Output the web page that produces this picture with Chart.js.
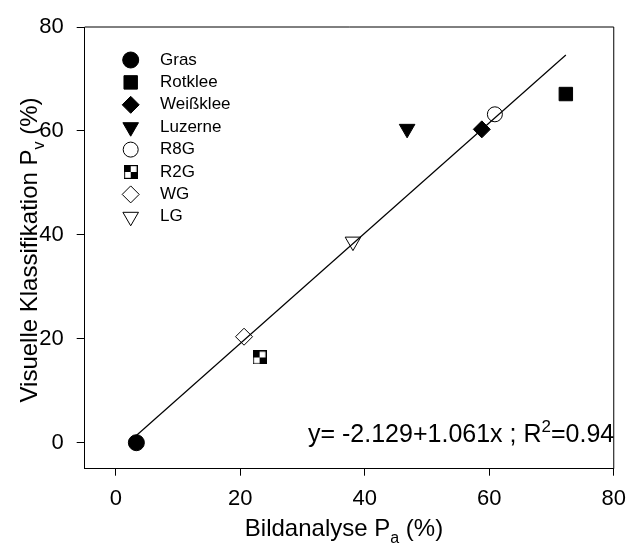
<!DOCTYPE html>
<html lang="de">
<head>
<meta charset="UTF-8">
<title>Bildanalyse vs. visuelle Klassifikation</title>
<script src="https://cdn.jsdelivr.net/npm/chart.js"></script>
<style>
    body { margin: 0; padding: 0; background: #fff; }
    #wrap { width: 636px; height: 546px; }
</style>
</head>
<body>
<div id="wrap"><canvas id="chart" width="636" height="546"></canvas></div>
<script>
// values
const names = ['Gras', 'Rotklee', 'Weißklee', 'Luzerne', 'R8G', 'R2G', 'WG', 'LG'];
const bildanalyse = [3.3, 72.3, 58.8, 46.8, 60.9, 23.1, 20.6, 38.1];
const visuell = [0.0, 67.1, 60.3, 60.4, 63.2, 16.4, 20.4, 38.7];
const fitX = [3.3, 72.3];
const fitY = [1.4, 74.6];
const xTicks = [0, 20, 40, 60, 80];
const yTicks = [0, 20, 40, 60, 80];
const equation = [['y= -2.129+1.061x ; R', ''], ['2', 'sup'], ['=0.94', '']];
const xTitle = [['Bildanalyse P', ''], ['a', 'sub'], [' (%)', '']];
const yTitle = [['Visuelle Klassifikation P', ''], ['v', 'sub'], [' (%)', '']];

const FONT = "'Liberation Sans', Arial, sans-serif";

// checkered square for R2G
function checker(size) {
    const c = document.createElement('canvas');
    c.width = size; c.height = size;
    const g = c.getContext('2d');
    const h = size / 2;
    g.fillStyle = '#fff';
    g.fillRect(0, 0, size, size);
    g.fillStyle = '#000';
    g.fillRect(0, 0, h, h);
    g.fillRect(h, h, h, h);
    g.strokeStyle = '#000';
    g.lineWidth = 1.2;
    g.strokeRect(0.6, 0.6, size - 1.2, size - 1.2);
    return c;
}

const markStyle = ['circle', 'rect', 'rectRot', 'triangle', 'circle', checker(14), 'rectRot', 'triangle'];
const markRot = [0, 0, 0, 180, 0, 0, 0, 180];
const markRadius = [8, 9.5, 8.5, 9, 7.5, 7, 8.5, 9];
const markFill = ['#000', '#000', '#000', '#000', '#fff', '#fff', '#fff', '#fff'];

const datasets = names.map((n, i) => ({
    type: 'scatter',
    label: n,
    data: [{ x: bildanalyse[i], y: visuell[i] }],
    pointStyle: markStyle[i],
    rotation: markRot[i],
    pointRadius: markRadius[i],
    pointBackgroundColor: markFill[i],
    pointBorderColor: '#000',
    pointBorderWidth: 1,
    order: 2
}));
datasets.push({
    type: 'line',
    label: 'fit',
    data: fitX.map((x, i) => ({ x: x, y: fitY[i] })),
    borderColor: '#000',
    borderWidth: 1.2,
    pointRadius: 0,
    fill: false,
    order: 1
});

function richText(ctx, parts, x, y, size, align) {
    const small = Math.round(size * 0.68);
    let total = 0;
    parts.forEach(p => {
        ctx.font = (p[1] ? small : size) + 'px ' + FONT;
        total += ctx.measureText(p[0]).width;
    });
    let cx = align === 'center' ? x - total / 2 : x;
    ctx.textAlign = 'left';
    ctx.textBaseline = 'alphabetic';
    parts.forEach(p => {
        ctx.font = (p[1] ? small : size) + 'px ' + FONT;
        let dy = 0;
        if (p[1] === 'sub') dy = size * 0.3;
        if (p[1] === 'sup') dy = -size * 0.4;
        ctx.fillText(p[0], cx, y + dy);
        cx += ctx.measureText(p[0]).width;
    });
}

const overlay = {
    id: 'overlay',
    afterDraw(chart) {
        const ctx = chart.ctx;
        const a = chart.chartArea;
        ctx.save();
        // top and right frame
        ctx.strokeStyle = '#000';
        ctx.lineWidth = 1;
        ctx.beginPath();
        ctx.moveTo(a.left, a.top);
        ctx.lineTo(a.right, a.top);
        ctx.lineTo(a.right, a.bottom);
        ctx.stroke();

        // legend in the upper left corner
        names.forEach((n, i) => {
            const y = a.top + 33 + i * 22.4;
            ctx.fillStyle = markFill[i];
            ctx.strokeStyle = '#000';
            ctx.lineWidth = 1;
            Chart.helpers.drawPoint(ctx, {
                pointStyle: markStyle[i],
                rotation: markRot[i],
                radius: markRadius[i],
                borderWidth: 1
            }, a.left + 46, y);
            ctx.fillStyle = '#000';
            ctx.font = '17px ' + FONT;
            ctx.textAlign = 'left';
            ctx.textBaseline = 'middle';
            ctx.fillText(n, a.left + 75.3, y);
        });

        ctx.fillStyle = '#000';
        richText(ctx, equation, a.left + 223.3, a.bottom - 26.7, 25, 'left');
        richText(ctx, xTitle, 344, 536, 24, 'center');

        ctx.translate(37, 250);
        ctx.rotate(-Math.PI / 2);
        richText(ctx, yTitle, 0, 0, 24, 'center');
        ctx.restore();
    }
};

new Chart(document.getElementById('chart'), {
    data: { datasets: datasets },
    options: {
        responsive: false,
        animation: false,
        layout: { padding: { top: 27, right: 14.3, left: 0, bottom: 0 } },
        plugins: {
            legend: { display: false },
            tooltip: { enabled: false }
        },
        scales: {
            x: {
                type: 'linear',
                min: -5,
                max: 80,
                afterBuildTicks: s => { s.ticks = xTicks.map(v => ({ value: v })); },
                afterFit: s => { s.height = 77.3; },
                grid: { drawOnChartArea: false, color: '#000', tickLength: 7 },
                border: { display: true, color: '#000', width: 1 },
                ticks: { color: '#000', font: { family: FONT, size: 22 }, padding: 10, maxRotation: 0 }
            },
            y: {
                type: 'linear',
                min: -5,
                max: 80,
                afterBuildTicks: s => { s.ticks = yTicks.map(v => ({ value: v })); },
                afterFit: s => { s.width = 84.7; },
                grid: { drawOnChartArea: false, color: '#000', tickLength: 8 },
                border: { display: true, color: '#000', width: 1 },
                ticks: { color: '#000', font: { family: FONT, size: 22 }, padding: 13 }
            }
        }
    },
    plugins: [overlay]
});
</script>
</body>
</html>
